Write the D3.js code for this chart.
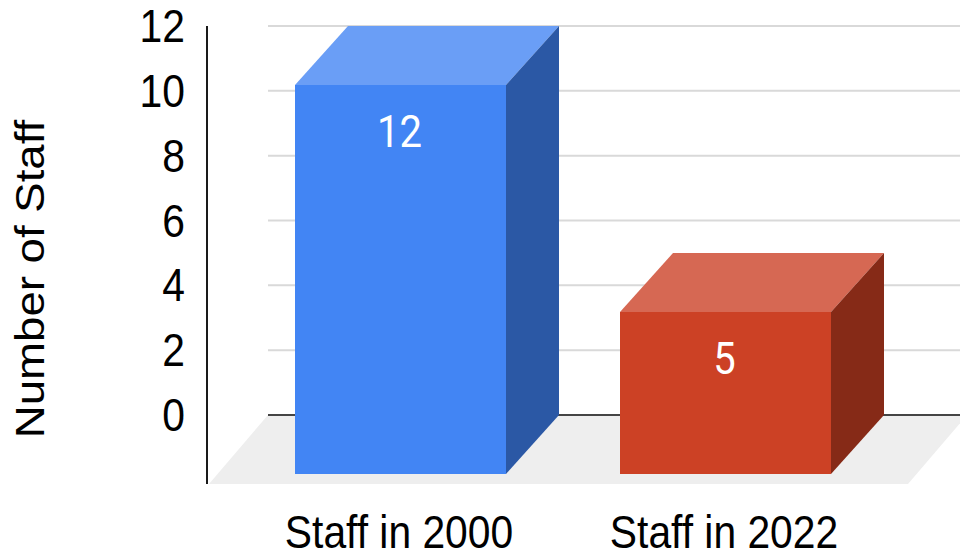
<!DOCTYPE html>
<html>
<head>
<meta charset="utf-8">
<script src="https://d3js.org/d3.v7.min.js"></script>
<style>
  html, body { margin: 0; padding: 0; background: #fff; }
  svg { display: block; }
  text { font-family: "Liberation Sans", Arial, sans-serif; fill: #000; }
  .tick line, .domain { display: none; }
</style>
</head>
<body>
<svg id="chart" width="960" height="556"></svg>
<script>
const categories = ["Staff in 2000", "Staff in 2022"];
const staffValues = [12, 5];
const barLabels = ["12", "5"];
const yTicks = [0, 2, 4, 6, 8, 10, 12];
const frontColors = ["#4285f4", "#cc4125"];
const topColors = ["#6a9ef6", "#d66853"];
const sideColors = ["#2b58a5", "#862a17"];

const width = 960, height = 556;
const depthX = 53, depthY = 59;   // the 3d shift between back and front of a bar
const stretch = 1.117;            // the source picture is taller than it is wide, text included
const fontSize = "40.8px";

const svg = d3.select("#chart");

// back wall scale, front faces are shifted by depth
const y = d3.scaleLinear().domain([0, 12]).range([415, 26]);
const x = d3.scaleBand().domain(categories).range([291, 941]).paddingInner(0.35).paddingOuter(0.175).round(true);

const poly = d3.line();

// floor
const floorY = 484;
svg.append("path")
    .attr("d", poly([[268, y(0)], [967, y(0)], [908, floorY], [209, floorY]]) + "Z")
    .attr("fill", "#eeeeee");

// gridlines
svg.append("g").selectAll("line").data(yTicks).enter().append("line")
    .attr("x1", 268).attr("x2", width)
    .attr("y1", d => y(d)).attr("y2", d => y(d))
    .attr("stroke", d => d === 0 ? "#444444" : "#d9d9d9")
    .attr("stroke-width", 2);

// y axis line
svg.append("line")
    .attr("x1", 207).attr("x2", 207).attr("y1", 26).attr("y2", floorY)
    .attr("stroke", "#1a1a1a").attr("stroke-width", 2);

// bars
const bars = svg.append("g").selectAll("g").data(categories).enter().append("g");

bars.each(function (c, i) {
    const g = d3.select(this);
    const xb = x(c), w = x.bandwidth(), top = Math.round(y(staffValues[i])), base = y(0);
    // top face
    g.append("path")
        .attr("d", poly([[xb, top], [xb + w, top], [xb + w - depthX, top + depthY], [xb - depthX, top + depthY]]) + "Z")
        .attr("fill", topColors[i]);
    // side face
    g.append("path")
        .attr("d", poly([[xb + w, top], [xb + w, base], [xb + w - depthX, base + depthY], [xb + w - depthX, top + depthY]]) + "Z")
        .attr("fill", sideColors[i]);
    // front face
    g.append("rect")
        .attr("x", xb - depthX).attr("y", top + depthY)
        .attr("width", w).attr("height", base - top)
        .attr("fill", frontColors[i]);
    // value label
    g.append("text")
        .attr("transform", `translate(${xb - depthX + w / 2 - 1},${top + depthY + 62}) scale(1,${stretch})`)
        .attr("text-anchor", "middle")
        .style("font-family", "Roboto")
        .style("font-weight", 400)
        .style("font-size", "40px")
        .style("fill", "#fff")
        .text(barLabels[i]);
});

// y axis labels
const yAxis = d3.axisLeft(y).tickValues(yTicks).tickSize(0).tickPadding(0);
svg.append("g")
    .attr("transform", "translate(185,1)")
    .call(yAxis)
    .call(g => g.selectAll("text")
        .attr("transform", `scale(1,${stretch})`)
        .style("font-family", '"Liberation Sans"')
        .style("font-size", fontSize)
        .style("fill", "#000"));

// x axis labels
const xLabels = d3.scaleBand().domain(categories).range(x.range().map(d => d - depthX - 1.5)).paddingInner(0.35).paddingOuter(0.175);
const xAxis = d3.axisBottom(xLabels).tickSize(0).tickPadding(0);
svg.append("g")
    .attr("transform", "translate(0,516)")
    .call(xAxis)
    .call(g => g.selectAll("text")
        .attr("transform", `scale(1,${stretch})`)
        .style("font-family", '"Liberation Sans"')
        .style("font-size", fontSize)
        .style("fill", "#000"));

// axis title
svg.append("text")
    .attr("transform", `translate(44,279) rotate(-90) scale(${stretch},1)`)
    .attr("text-anchor", "middle")
    .style("font-size", fontSize)
    .text("Number of Staff");
</script>
</body>
</html>
